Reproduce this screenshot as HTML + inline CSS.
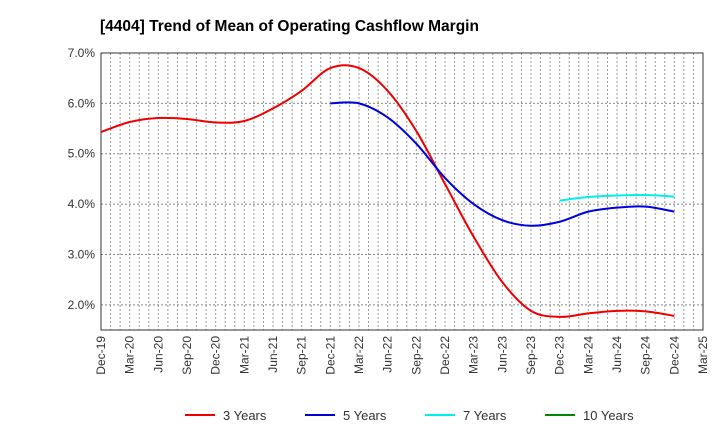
<!DOCTYPE html>
<html><head><meta charset="utf-8"><style>
body{margin:0;background:#fff;font-family:"Liberation Sans",sans-serif}
</style></head><body>
<svg id="c" width="720" height="440" xmlns="http://www.w3.org/2000/svg">
<text x="100" y="31" font-size="15.5" font-weight="bold" fill="#000">[4404]  Trend of Mean of Operating Cashflow Margin</text>
<g id="grid"></g><g id="axes"></g><g id="series"></g><g id="legend"></g>
</svg>
<script>
const xLabels=["Dec-19","Mar-20","Jun-20","Sep-20","Dec-20","Mar-21","Jun-21","Sep-21","Dec-21","Mar-22","Jun-22","Sep-22","Dec-22","Mar-23","Jun-23","Sep-23","Dec-23","Mar-24","Jun-24","Sep-24","Dec-24","Mar-25"];
const yTicks=[2,3,4,5,6,7];
const s3=[5.43,5.63,5.71,5.69,5.62,5.65,5.90,6.25,6.70,6.70,6.25,5.45,4.40,3.35,2.45,1.88,1.76,1.83,1.88,1.87,1.78];
const s5=[6.00,6.00,5.72,5.20,4.52,4.00,3.68,3.57,3.65,3.85,3.93,3.95,3.85];
const s7=[4.07,4.14,4.17,4.18,4.15];
const s10=[];
const ns="http://www.w3.org/2000/svg";
const L=101,R=703,T=53,B=330,yMin=1.5,yMax=7;
const xm=m=>L+(R-L)*m/63;
const xq=i=>xm(i*3);
const y=v=>B-(v-yMin)/(yMax-yMin)*(B-T);
function mk(t,a,p){const e=document.createElementNS(ns,t);for(const k in a)e.setAttribute(k,a[k]);p.appendChild(e);return e;}
const g=document.getElementById('grid');
for(let m=1;m<63;m++){const l=mk('line',{x1:xm(m),x2:xm(m),y1:T,y2:B,stroke:'#999','stroke-dasharray':'2,2','stroke-width':1},g);

}
const ax=document.getElementById('axes');
yTicks.forEach(v=>{const l=mk('line',{x1:L,x2:R,y1:y(v),y2:y(v),stroke:'#888','stroke-dasharray':'2,2'},g);


const t=mk('text',{x:L-6,y:y(v)+4,'text-anchor':'end','font-size':12,fill:'#333'},ax);t.textContent=v.toFixed(1)+'%';

});
const fr=mk('rect',{x:L,y:T,width:R-L,height:B-T,fill:'none',stroke:'#333'},ax);


xLabels.forEach((s,i)=>{const x=xq(i);const t=mk('text',{transform:`translate(${x+4},${B+6}) rotate(-90)`,'text-anchor':'end','font-size':12,fill:'#333'},ax);t.textContent=s;

});
function path(arr,start){const p=arr.map((v,i)=>[xq(start+i),y(v)]);if(p.length<2)return '';let d=`M${p[0][0]},${p[0][1]}`;
for(let i=0;i<p.length-1;i++){const p0=p[i-1]||p[i],p1=p[i],p2=p[i+1],p3=p[i+2]||p2;
d+=` C${p1[0]+(p2[0]-p0[0])/6},${p1[1]+(p2[1]-p0[1])/6} ${p2[0]-(p3[0]-p1[0])/6},${p2[1]-(p3[1]-p1[1])/6} ${p2[0]},${p2[1]}`;}return d;}
const sg=document.getElementById('series');
[[s3,0,'#e00','line-3-years'],[s5,8,'#00d','line-5-years'],[s7,16,'#0ee','line-7-years'],[s10,20,'#080','line-10-years']].forEach(([a,st,c,n])=>{
const d=path(a,st);if(!d)return;const e=mk('path',{d:d,fill:'none',stroke:c,'stroke-width':2},sg);

});
const lg=document.getElementById('legend');
[['3 Years','#e00',185],['5 Years','#00d',305],['7 Years','#0ee',425],['10 Years','#080',545]].forEach(([s,c,x])=>{
const gg=mk('g',{},lg);


mk('line',{x1:x,x2:x+30,y1:415,y2:415,stroke:c,'stroke-width':2},gg);
const t=mk('text',{x:x+38,y:420,'font-size':13,fill:'#333'},gg);t.textContent=s;});
</script>
</body></html>
